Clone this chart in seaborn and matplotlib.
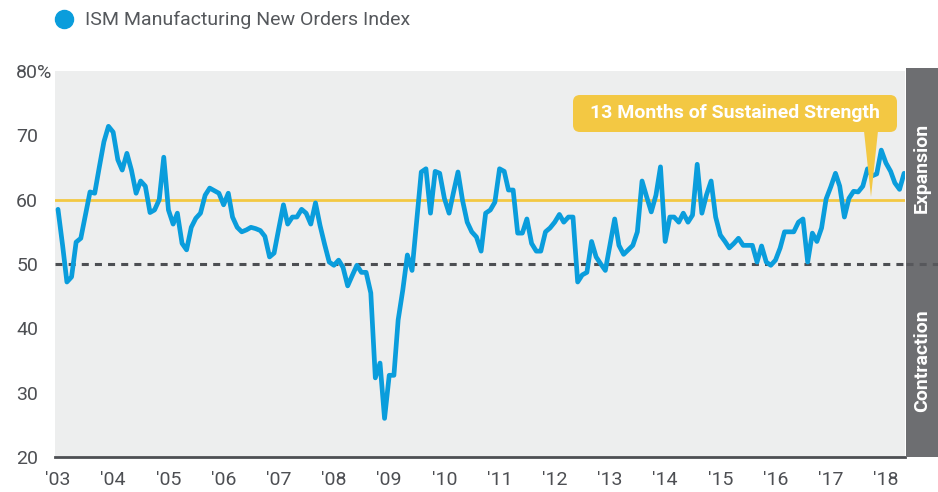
import pandas as pd
import seaborn as sns
import matplotlib.pyplot as plt
from matplotlib.lines import Line2D
from matplotlib.patches import FancyBboxPatch, Polygon

# monthly ISM new orders index, Jan 2003 - May 2018
new_orders = [
    58.5, 52.8, 47.2, 48.0, 53.4, 54.0, 57.5, 61.2, 61.0, 65.0, 69.0, 71.4,  # 2003
    70.5, 66.2, 64.6, 67.2, 64.6, 61.0, 62.9, 62.1, 58.0, 58.4, 60.0, 66.6,  # 2004
    58.4, 56.2, 57.9, 53.2, 52.2, 55.7, 57.1, 57.9, 60.7, 61.8, 61.4, 61.0,  # 2005
    59.2, 61.0, 57.3, 55.7, 55.0, 55.3, 55.7, 55.5, 55.2, 54.3, 51.1, 51.7,  # 2006
    55.5, 59.2, 56.2, 57.3, 57.3, 58.5, 57.9, 56.2, 59.5, 56.0, 53.0, 50.3,  # 2007
    49.8, 50.6, 49.5, 46.6, 48.2, 49.8, 48.7, 48.7, 45.5, 32.3, 34.6, 26.0,  # 2008
    32.7, 32.7, 41.3, 46.0, 51.4, 49.0, 56.5, 64.3, 64.8, 57.9, 64.4, 64.1,  # 2009
    60.2, 57.9, 61.0, 64.3, 59.9, 56.5, 55.0, 54.2, 52.0, 57.9, 58.4, 59.6,  # 2010
    64.8, 64.4, 61.5, 61.5, 54.8, 54.8, 57.0, 53.2, 52.0, 52.0, 55.0, 55.6,  # 2011
    56.5, 57.7, 56.5, 57.3, 57.3, 47.2, 48.3, 48.7, 53.5, 51.1, 50.0, 49.0,  # 2012
    53.0, 57.0, 52.9, 51.5, 52.2, 52.9, 55.0, 62.9, 60.4, 58.1, 60.7, 65.1,  # 2013
    53.5, 57.3, 57.3, 56.5, 57.9, 56.5, 57.6, 65.5, 57.9, 60.7, 62.9, 57.3,  # 2014
    54.5, 53.5, 52.5, 53.2, 54.0, 52.9, 52.9, 52.9, 50.3, 52.8, 50.3, 49.8,  # 2015
    50.6, 52.5, 55.0, 55.0, 55.0, 56.5, 57.0, 50.3, 54.8, 53.5, 55.6, 60.1,  # 2016
    62.0, 64.1, 62.1, 57.3, 60.2, 61.3, 61.2, 62.1, 64.8, 63.7, 64.0, 67.7,  # 2017
    65.7, 64.4, 62.6, 61.6, 64.1,                                            # 2018
]
year_labels = ["'03", "'04", "'05", "'06", "'07", "'08", "'09", "'10",
               "'11", "'12", "'13", "'14", "'15", "'16", "'17", "'18"]
y_ticks = [20, 30, 40, 50, 60, 70, 80]
y_labels = ['20', '30', '40', '50', '60', '70', '80%']
strength_level = 60
neutral_level = 50

BLUE = '#0a9ddc'
GOLD = '#f3c843'
DARK = '#4d4f53'
PANEL = '#6d6e71'

sns.set_style('white')
plt.rcParams['font.family'] = ['Roboto', 'DejaVu Sans']

df = pd.DataFrame({
    'month': pd.date_range('2003-01-01', periods=len(new_orders), freq='MS'),
    'value': new_orders,
})

fig = plt.figure(figsize=(9.38, 4.92), dpi=100)
ax = fig.add_axes([55 / 938, 35 / 492, 850 / 938, 386 / 492])
ax.set_facecolor('#edeeee')

ax.axhline(strength_level, color=GOLD, lw=2, zorder=1)
ax.axhline(neutral_level, color=DARK, lw=2.2, dashes=(2.3, 2.0), zorder=1)
sns.lineplot(data=df, x='month', y='value', color=BLUE, lw=3.4, ax=ax, zorder=3)

ax.set_ylim(20, 80)
step = pd.Timedelta(days=30.4)
ax.set_xlim(df['month'].iloc[0] - 0.65 * step, df['month'].iloc[-1] + 0.2 * step)
ax.set_yticks(y_ticks)
ax.set_yticklabels(y_labels)
ax.set_xticks(pd.date_range('2003-01-01', periods=len(year_labels), freq='YS'))
ax.set_xticklabels(year_labels)
ax.set_xlabel('')
ax.set_ylabel('')
ax.tick_params(axis='y', length=0, pad=28, labelsize=14, labelcolor=DARK)
ax.tick_params(axis='x', length=0, pad=10, labelsize=14, labelcolor=DARK)
for lab in ax.get_yticklabels():
    lab.set_ha('left')
for side in ['top', 'left', 'right']:
    ax.spines[side].set_visible(False)
ax.spines['bottom'].set_color(DARK)
ax.spines['bottom'].set_linewidth(2)

# grey side panel with expansion / contraction labels
side = fig.add_axes([906 / 938, 35 / 492, 32 / 938, 389 / 492])
side.set_facecolor(PANEL)
side.set_xlim(0, 1)
side.set_ylim(20, 80.5)
side.axhline(neutral_level, color='#57585c', lw=2.2, dashes=(2.3, 2.0))
side.set_xticks([])
side.set_yticks([])
for s in side.spines.values():
    s.set_visible(False)
side.text(0.5, 65, 'Expansion', rotation=90, ha='center', va='center',
          color='white', fontsize=14, fontweight='bold')
side.text(0.5, 35, 'Contraction', rotation=90, ha='center', va='center',
          color='white', fontsize=14, fontweight='bold')

# callout box
box = FancyBboxPatch((5.73, 3.60), 3.24, 0.37, boxstyle='round,pad=0,rounding_size=0.07',
                     transform=fig.dpi_scale_trans, fc=GOLD, ec='none', zorder=5)
fig.add_artist(box)
tip = Polygon([(8.64, 3.61), (8.78, 3.61), (8.71, 2.95)], closed=True,
              transform=fig.dpi_scale_trans, fc=GOLD, ec='none', zorder=5)
fig.add_artist(tip)
fig.text(7.35 / 9.38, 3.785 / 4.92, '13 Months of Sustained Strength', ha='center', va='center',
         color='white', fontsize=14, fontweight='bold', zorder=6)

handle = Line2D([], [], marker='o', ls='', color=BLUE, markersize=13)
fig.legend([handle], ['ISM Manufacturing New Orders Index'], loc='upper left',
           bbox_to_anchor=(54 / 938, 0.977), frameon=False, borderpad=0, borderaxespad=0,
           handlelength=1, handletextpad=0.6, prop={'size': 14}, labelcolor='#55585c')

fig.savefig('out.png', dpi=100)
